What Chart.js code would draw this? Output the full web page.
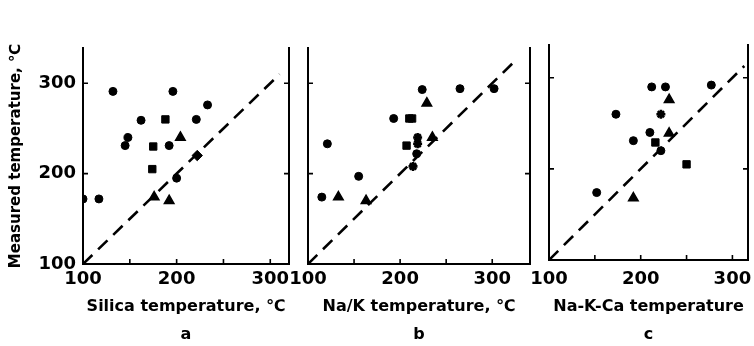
<!DOCTYPE html>
<html><head><meta charset="utf-8">
<script src="https://cdn.jsdelivr.net/npm/chart.js@4.4.1/dist/chart.umd.min.js"></script>
<style>
html,body{margin:0;padding:0;background:#fff;overflow:hidden;width:754px;height:346px}
canvas{position:absolute;left:0;top:0}
</style></head><body>
<canvas id="pa" width="790" height="349"></canvas>
<canvas id="pb" width="790" height="349"></canvas>
<canvas id="pc" width="790" height="349"></canvas>
<script>
// ---- data ----
const xTickLabels = [100, 200, 300];
const yTickLabels = [100, 200, 300];
const xMinorTicks = [150, 200, 250, 300];
const yMinorTicks = [200, 300];

const yTitle = 'Measured temperature, ℃';

// panel a: Silica temperature
const silicaTitle = 'Silica temperature, ℃';
const silicaCircles = [[132,291],[196,291],[233,276],[162,259],[221,260],[148,240],[145,231],[192,231],[117,172],[100,172],[200,195]];
const silicaTriangles = [[204,240],[192,170],[176,174]];
const silicaSquares = [[188,260],[175,230],[174,205]];
const silicaDiamonds = [[222,220]];
const silicaStars = [];
const silicaDiagonal = [100, 310];

// panel b: Na/K temperature
const naKTitle = 'Na/K temperature, ℃';
const naKCircles = [[224,293],[265,294],[302,294],[193,261],[121,233],[155,197],[115,174],[218,222]];
const naKTriangles = [[229,278],[133,174],[235,240],[163,170]];
const naKSquares = [[210,261],[213,261],[207,231]];
const naKDiamonds = [];
const naKStars = [[219,240],[219,233],[214,208]];
const naKDiagonal = [100, 323];

// panel c: Na-K-Ca temperature
const naKCaTitle = 'Na-K-Ca temperature';
const naKCaCircles = [[212,290],[227,290],[277,292],[173,260],[210,240],[192,231],[222,220],[152,174]];
const naKCaTriangles = [[231,276],[192,168],[231,239]];
const naKCaSquares = [[216,229],[250,205]];
const naKCaDiamonds = [];
const naKCaStars = [[222,260]];
const naKCaDiagonal = [100, 313];

// ---- drawing ----
const FONT = 'DejaVu Sans';
const CANVAS_W = 790;
const toPts = arr => arr.map(p => ({x: p[0], y: p[1]}));

const innerTicks = {
  id: 'innerTicks',
  afterDraw(chart) {
    const ctx = chart.ctx, a = chart.chartArea;
    const xs = chart.scales.x, ys = chart.scales.y;
    ctx.save();
    ctx.strokeStyle = '#000';
    ctx.lineWidth = 1.6;
    ctx.beginPath();
    xMinorTicks.forEach(v => {
      const px = xs.getPixelForValue(v);
      ctx.moveTo(px, a.bottom); ctx.lineTo(px, a.bottom - 5);
    });
    yMinorTicks.forEach(v => {
      const py = ys.getPixelForValue(v);
      ctx.moveTo(a.left, py); ctx.lineTo(a.left + 5, py);
      ctx.moveTo(a.right, py); ctx.lineTo(a.right - 5, py);
    });
    ctx.stroke();
    ctx.restore();
  }
};

function makePanel(id, p) {
  const mk = (arr, style, r, extra) => Object.assign({
    data: toPts(arr), pointStyle: style, pointRadius: r,
    backgroundColor: '#000', borderColor: '#000', borderWidth: 1, showLine: false
  }, extra || {});
  const datasets = [
    {type: 'line', data: p.diag.map(v => ({x: v, y: v})), borderColor: '#000', borderWidth: 2.6,
     borderDash: [13, 8], pointRadius: 0, fill: false, tension: 0},
    mk(p.circles, 'circle', 4),
    mk(p.triangles, 'triangle', 5.5, {borderWidth: 1.5}),
    mk(p.squares, 'rect', 5.2),
    mk(p.diamonds, 'rectRot', 5.2),
    mk(p.stars, 'star', 4.5, {borderWidth: 2.6})
  ];
  const tickFont = {family: FONT, size: 18, weight: 'bold'};
  new Chart(document.getElementById(id), {
    type: 'scatter',
    data: {datasets},
    options: {
      responsive: false, animation: false,
      plugins: {legend: {display: false}, tooltip: {enabled: false}},
      layout: {padding: {left: p.padLeft, right: CANVAS_W - p.right, top: p.top, bottom: 0}},
      scales: {
        x: {
          type: 'linear', position: 'bottom', min: 100, max: p.xMax,
          afterBuildTicks: s => { s.ticks = xTickLabels.map(v => ({value: v})); },
          afterFit: s => { s.height = 349 - p.bottom; },
          grid: {display: false, drawTicks: false},
          border: {display: true, color: '#000', width: 2},
          ticks: {padding: p.tickPad, color: '#000', font: tickFont, maxRotation: 0, autoSkip: false},
          title: {display: true, text: [p.xTitle, p.letter], color: '#000',
                  font: {family: FONT, size: 16, weight: 'bold', lineHeight: 28 / 16},
                  padding: {top: 0, bottom: 0}}
        },
        y: {
          type: 'linear', position: 'left', min: 100, max: p.yMax,
          afterBuildTicks: s => { s.ticks = yTickLabels.map(v => ({value: v})); },
          afterFit: s => { s.width = p.yAxisWidth; },
          grid: {display: false, drawTicks: false},
          border: {display: true, color: '#000', width: 2},
          ticks: {display: p.showY, padding: 7, color: '#000', font: tickFont},
          title: {display: p.showY, text: yTitle, color: '#000',
                  font: {family: FONT, size: 15, weight: 'bold', lineHeight: 1.2},
                  padding: {top: 7, bottom: 0}}
        },
        yR: {
          type: 'linear', position: 'right', min: 100, max: p.yMax, display: true,
          afterFit: s => { s.width = 0; },
          grid: {display: false, drawTicks: false},
          border: {display: true, color: '#000', width: 2},
          ticks: {display: false}
        }
      }
    },
    plugins: [innerTicks]
  });
}

makePanel('pa', {padLeft: 0, yAxisWidth: 83, right: 289, top: 48, bottom: 264, xMax: 320, yMax: 339,
  tickPad: 5, xTitle: silicaTitle, letter: 'a', showY: true,
  circles: silicaCircles, triangles: silicaTriangles, squares: silicaSquares,
  diamonds: silicaDiamonds, stars: silicaStars, diag: silicaDiagonal});
makePanel('pb', {padLeft: 300, yAxisWidth: 8, right: 530, top: 48, bottom: 264, xMax: 341, yMax: 339,
  tickPad: 5, xTitle: naKTitle, letter: 'b', showY: false,
  circles: naKCircles, triangles: naKTriangles, squares: naKSquares,
  diamonds: naKDiamonds, stars: naKStars, diag: naKDiagonal});
makePanel('pc', {padLeft: 540, yAxisWidth: 9, right: 748, top: 45, bottom: 260, xMax: 317, yMax: 336,
  tickPad: 9, xTitle: naKCaTitle, letter: 'c', showY: false,
  circles: naKCaCircles, triangles: naKCaTriangles, squares: naKCaSquares,
  diamonds: naKCaDiamonds, stars: naKCaStars, diag: naKCaDiagonal});
</script>
</body></html>
